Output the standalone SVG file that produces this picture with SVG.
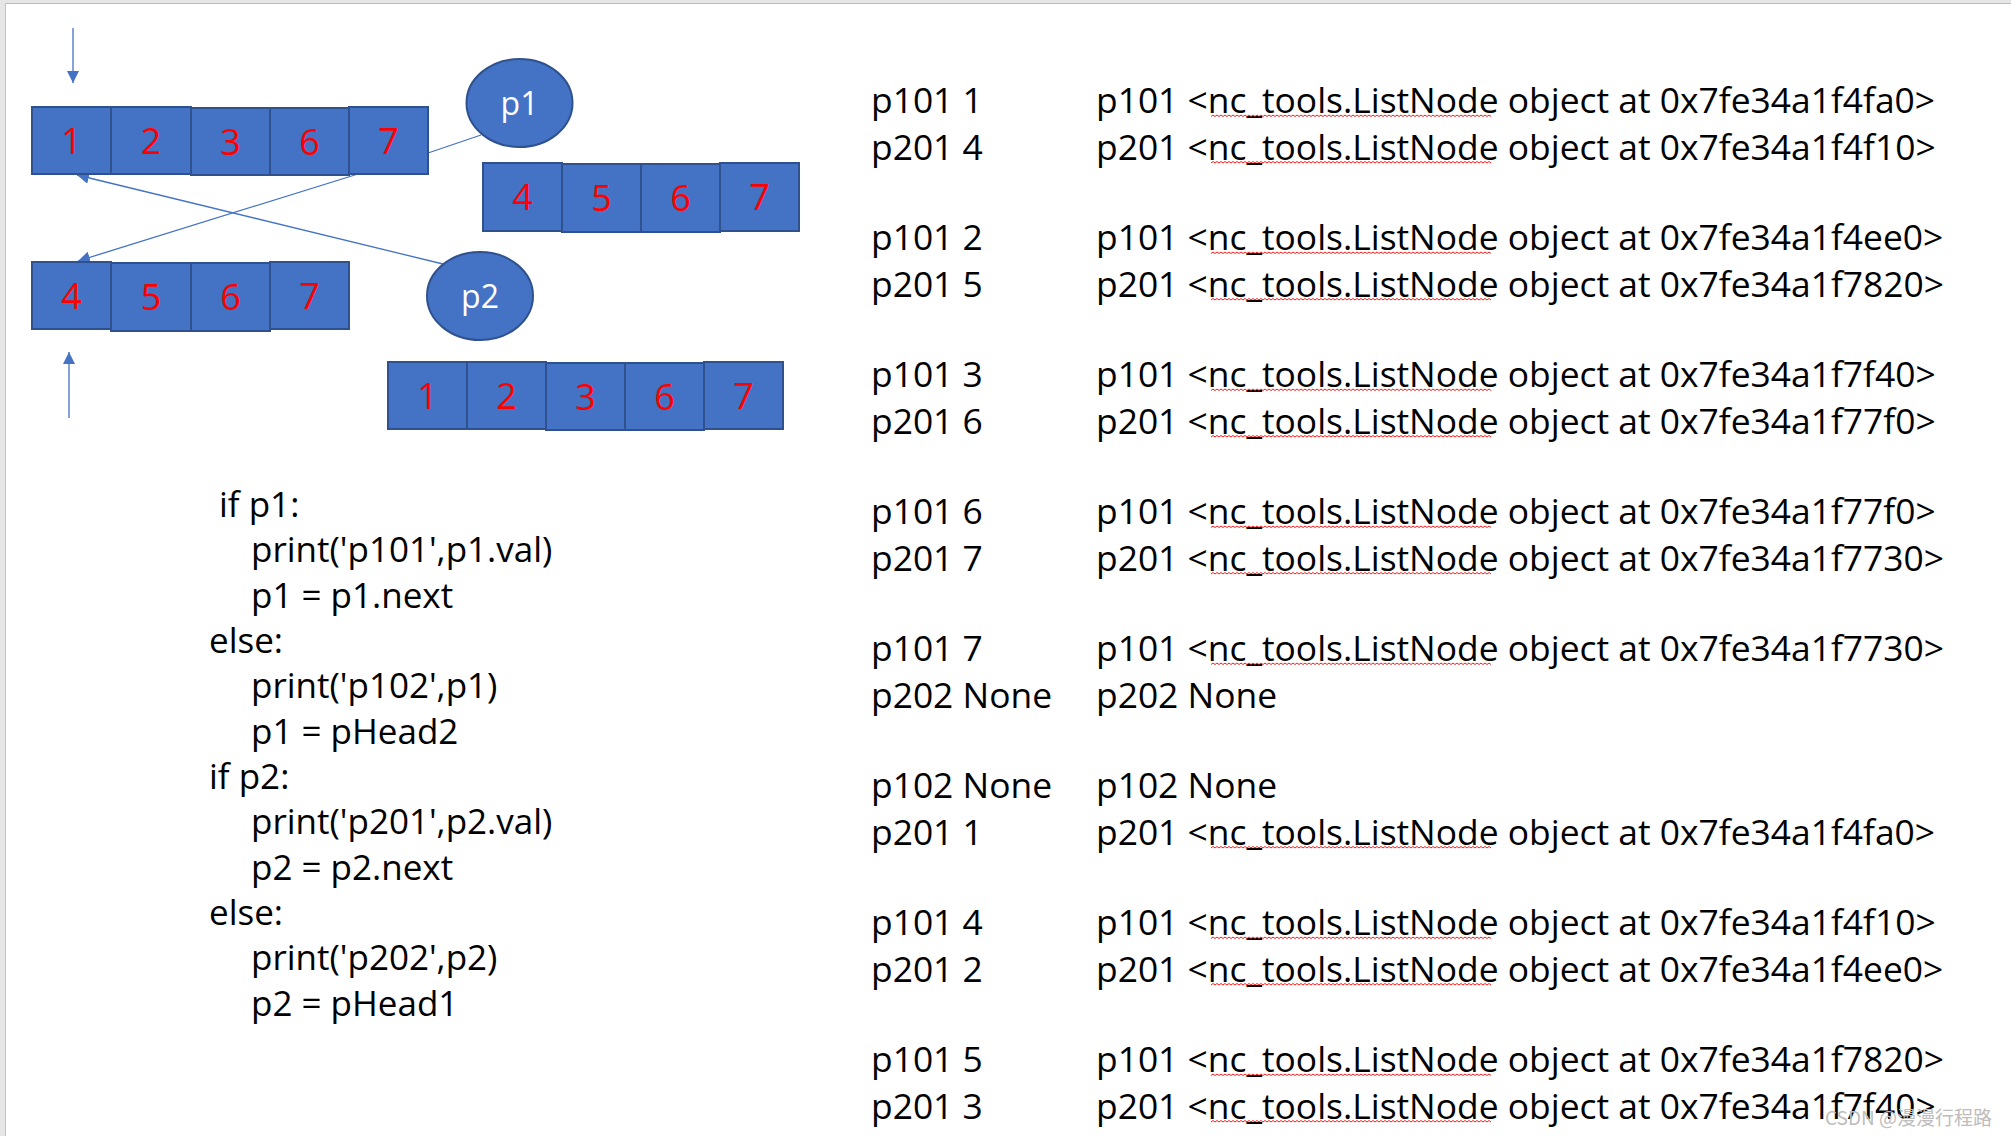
<svg xmlns="http://www.w3.org/2000/svg" xmlns:xlink="http://www.w3.org/1999/xlink" width="2011" height="1136" viewBox="0 0 2011 1136">
<style>
.box{fill:#4472C4;stroke:#2F528F;stroke-width:2}
.dg{font-family:"Open Sans","Liberation Sans",sans-serif;font-size:36px;fill:#FF0000;text-anchor:middle}
.pt{font-family:"Open Sans","Liberation Sans",sans-serif;font-size:32px;fill:#FFFFFF;text-anchor:middle}
.code{font-family:"Open Sans","Liberation Sans",sans-serif;font-size:35px;fill:#000}
.out{font-family:"Open Sans","Liberation Sans",sans-serif;font-size:35.4px;fill:#000}
.conn{stroke:#4472C4;stroke-width:1.3;fill:none}
.wm{font-family:"Noto Sans CJK SC","Noto Sans",sans-serif;font-size:19px;fill:#BDBDBD}
</style>
<defs>
<marker id="ah" viewBox="0 0 10 10" refX="10" refY="5" markerWidth="12" markerHeight="12" markerUnits="userSpaceOnUse" orient="auto"><path d="M0,0 L10,5 L0,10 z" fill="#4472C4"/></marker>
<path id="wave" fill="none" stroke="#FF0000" stroke-width="0.9" d="M0,1.5 l2,-1.5 2,1.5 2,-1.5 2,1.5 2,-1.5 2,1.5 2,-1.5 2,1.5 2,-1.5 2,1.5 2,-1.5 2,1.5 2,-1.5 2,1.5 2,-1.5 2,1.5 2,-1.5 2,1.5 2,-1.5 2,1.5 2,-1.5 2,1.5 2,-1.5 2,1.5 2,-1.5 2,1.5 2,-1.5 2,1.5 2,-1.5 2,1.5 2,-1.5 2,1.5 2,-1.5 2,1.5 2,-1.5 2,1.5 2,-1.5 2,1.5 2,-1.5 2,1.5 2,-1.5 2,1.5 2,-1.5 2,1.5 2,-1.5 2,1.5 2,-1.5 2,1.5 2,-1.5 2,1.5 2,-1.5 2,1.5 2,-1.5 2,1.5 2,-1.5 2,1.5 2,-1.5 2,1.5 2,-1.5 2,1.5 2,-1.5 2,1.5 2,-1.5 2,1.5 2,-1.5 2,1.5 2,-1.5 2,1.5 2,-1.5 2,1.5 2,-1.5 2,1.5 2,-1.5 2,1.5 2,-1.5 2,1.5 2,-1.5 2,1.5 2,-1.5 2,1.5 2,-1.5 2,1.5 2,-1.5 2,1.5 2,-1.5 2,1.5 2,-1.5 2,1.5 2,-1.5 2,1.5 2,-1.5 2,1.5 2,-1.5 2,1.5 2,-1.5 2,1.5 2,-1.5 2,1.5 2,-1.5 2,1.5 2,-1.5 2,1.5 2,-1.5 2,1.5 2,-1.5 2,1.5 2,-1.5 2,1.5 2,-1.5 2,1.5 2,-1.5 2,1.5 2,-1.5 2,1.5 2,-1.5 2,1.5 2,-1.5 2,1.5 2,-1.5 2,1.5 2,-1.5 2,1.5 2,-1.5 2,1.5 2,-1.5 2,1.5 2,-1.5 2,1.5 2,-1.5 2,1.5 2,-1.5 2,1.5 2,-1.5 2,1.5 2,-1.5 2,1.5 2,-1.5 2,1.5 2,-1.5 2,1.5"/>
</defs>
<rect width="2011" height="1136" fill="#FFFFFF"/>
<rect x="0" y="0" width="2011" height="3.5" fill="#E6E6E6"/>
<rect x="0" y="0" width="5.5" height="1136" fill="#E6E6E6"/>
<line x1="5.5" y1="3.5" x2="2011" y2="3.5" stroke="#BBBBBB" stroke-width="1"/>
<line x1="5.5" y1="3.5" x2="5.5" y2="1136" stroke="#C4C4C4" stroke-width="1"/>

<g id="connectors">
<line class="conn" x1="73" y1="28" x2="73" y2="83" marker-end="url(#ah)"/>
<line class="conn" x1="69" y1="418" x2="69" y2="352" marker-end="url(#ah)"/>
<line class="conn" x1="481" y1="135" x2="428" y2="153"/>
<line class="conn" x1="358" y1="174" x2="78" y2="261" marker-end="url(#ah)"/>
<line class="conn" x1="443" y1="264" x2="77" y2="175" marker-end="url(#ah)"/>
</g>

<g id="list1">
<g id="l1n1"><rect class="box" x="32" y="107" width="79" height="67"/><text class="dg" x="71.5" y="153.5">1</text></g>
<g id="l1n2"><rect class="box" x="111" y="107" width="80" height="67"/><text class="dg" x="151" y="153.5">2</text></g>
<g id="l1n3"><rect class="box" x="191" y="108" width="79" height="67"/><text class="dg" x="230.5" y="154.5">3</text></g>
<g id="l1n6"><rect class="box" x="270" y="108" width="79" height="67"/><text class="dg" x="309.5" y="154.5">6</text></g>
<g id="l1n7"><rect class="box" x="349" y="107" width="79" height="67"/><text class="dg" x="388.5" y="153.5">7</text></g>
</g>

<g id="list2right">
<g id="r2n4"><rect class="box" x="483" y="163" width="79" height="68"/><text class="dg" x="522.5" y="210">4</text></g>
<g id="r2n5"><rect class="box" x="562" y="164" width="79" height="68"/><text class="dg" x="601.5" y="211">5</text></g>
<g id="r2n6"><rect class="box" x="641" y="164" width="79" height="68"/><text class="dg" x="680.5" y="211">6</text></g>
<g id="r2n7"><rect class="box" x="720" y="163" width="79" height="68"/><text class="dg" x="759.5" y="210">7</text></g>
</g>

<g id="list2">
<g id="l2n4"><rect class="box" x="32" y="262" width="79" height="67"/><text class="dg" x="71.5" y="308.5">4</text></g>
<g id="l2n5"><rect class="box" x="111" y="263" width="80" height="68"/><text class="dg" x="151" y="310">5</text></g>
<g id="l2n6"><rect class="box" x="191" y="263" width="79" height="68"/><text class="dg" x="230.5" y="310">6</text></g>
<g id="l2n7"><rect class="box" x="270" y="262" width="79" height="67"/><text class="dg" x="309.5" y="308.5">7</text></g>
</g>

<g id="list1bottom">
<g id="b1n1"><rect class="box" x="388" y="362" width="79" height="67"/><text class="dg" x="427.5" y="408.5">1</text></g>
<g id="b1n2"><rect class="box" x="467" y="362" width="79" height="67"/><text class="dg" x="506.5" y="408.5">2</text></g>
<g id="b1n3"><rect class="box" x="546" y="363" width="79" height="67"/><text class="dg" x="585.5" y="409.5">3</text></g>
<g id="b1n6"><rect class="box" x="625" y="363" width="79" height="67"/><text class="dg" x="664.5" y="409.5">6</text></g>
<g id="b1n7"><rect class="box" x="704" y="362" width="79" height="67"/><text class="dg" x="743.5" y="408.5">7</text></g>
</g>

<g id="p1"><ellipse class="box" cx="519.5" cy="103" rx="53" ry="44"/><text class="pt" x="519.5" y="115">p1</text></g>
<g id="p2"><ellipse class="box" cx="480" cy="296" rx="53" ry="44"/><text class="pt" x="480" y="308">p2</text></g>

<g id="code" class="code">
<text x="219" y="517">if p1:</text>
<text x="251" y="562">print('p101',p1.val)</text>
<text x="251" y="607.5">p1 = p1.next</text>
<text x="209" y="653">else:</text>
<text x="251" y="698">print('p102',p1)</text>
<text x="251" y="743.5">p1 = pHead2</text>
<text x="209" y="789">if p2:</text>
<text x="251" y="834">print('p201',p2.val)</text>
<text x="251" y="879.5">p2 = p2.next</text>
<text x="209" y="925">else:</text>
<text x="251" y="970">print('p202',p2)</text>
<text x="251" y="1015.5">p2 = pHead1</text>
</g>

<g id="output" class="out">
<text x="871" y="113">p101 1</text><text x="1096" y="113">p101 &lt;nc_tools.ListNode object at 0x7fe34a1f4fa0&gt;</text>
<text x="871" y="159.5">p201 4</text><text x="1096" y="159.5">p201 &lt;nc_tools.ListNode object at 0x7fe34a1f4f10&gt;</text>
<text x="871" y="250">p101 2</text><text x="1096" y="250">p101 &lt;nc_tools.ListNode object at 0x7fe34a1f4ee0&gt;</text>
<text x="871" y="296.5">p201 5</text><text x="1096" y="296.5">p201 &lt;nc_tools.ListNode object at 0x7fe34a1f7820&gt;</text>
<text x="871" y="387">p101 3</text><text x="1096" y="387">p101 &lt;nc_tools.ListNode object at 0x7fe34a1f7f40&gt;</text>
<text x="871" y="433.5">p201 6</text><text x="1096" y="433.5">p201 &lt;nc_tools.ListNode object at 0x7fe34a1f77f0&gt;</text>
<text x="871" y="524">p101 6</text><text x="1096" y="524">p101 &lt;nc_tools.ListNode object at 0x7fe34a1f77f0&gt;</text>
<text x="871" y="570.5">p201 7</text><text x="1096" y="570.5">p201 &lt;nc_tools.ListNode object at 0x7fe34a1f7730&gt;</text>
<text x="871" y="661">p101 7</text><text x="1096" y="661">p101 &lt;nc_tools.ListNode object at 0x7fe34a1f7730&gt;</text>
<text x="871" y="707.5">p202 None</text><text x="1096" y="707.5">p202 None</text>
<text x="871" y="798">p102 None</text><text x="1096" y="798">p102 None</text>
<text x="871" y="844.5">p201 1</text><text x="1096" y="844.5">p201 &lt;nc_tools.ListNode object at 0x7fe34a1f4fa0&gt;</text>
<text x="871" y="935">p101 4</text><text x="1096" y="935">p101 &lt;nc_tools.ListNode object at 0x7fe34a1f4f10&gt;</text>
<text x="871" y="981.5">p201 2</text><text x="1096" y="981.5">p201 &lt;nc_tools.ListNode object at 0x7fe34a1f4ee0&gt;</text>
<text x="871" y="1072">p101 5</text><text x="1096" y="1072">p101 &lt;nc_tools.ListNode object at 0x7fe34a1f7820&gt;</text>
<text x="871" y="1118.5">p201 3</text><text x="1096" y="1118.5">p201 &lt;nc_tools.ListNode object at 0x7fe34a1f7f40&gt;</text>
</g>

<g id="squiggles">
<use xlink:href="#wave" x="1211" y="115"/>
<use xlink:href="#wave" x="1211" y="161.5"/>
<use xlink:href="#wave" x="1211" y="252"/>
<use xlink:href="#wave" x="1211" y="298.5"/>
<use xlink:href="#wave" x="1211" y="389"/>
<use xlink:href="#wave" x="1211" y="435.5"/>
<use xlink:href="#wave" x="1211" y="526"/>
<use xlink:href="#wave" x="1211" y="572.5"/>
<use xlink:href="#wave" x="1211" y="663"/>
<use xlink:href="#wave" x="1211" y="846.5"/>
<use xlink:href="#wave" x="1211" y="937"/>
<use xlink:href="#wave" x="1211" y="983.5"/>
<use xlink:href="#wave" x="1211" y="1074"/>
<use xlink:href="#wave" x="1211" y="1120.5"/>
</g>

<text class="wm" x="1825" y="1125">CSDN @漫漫行程路</text>
</svg>
